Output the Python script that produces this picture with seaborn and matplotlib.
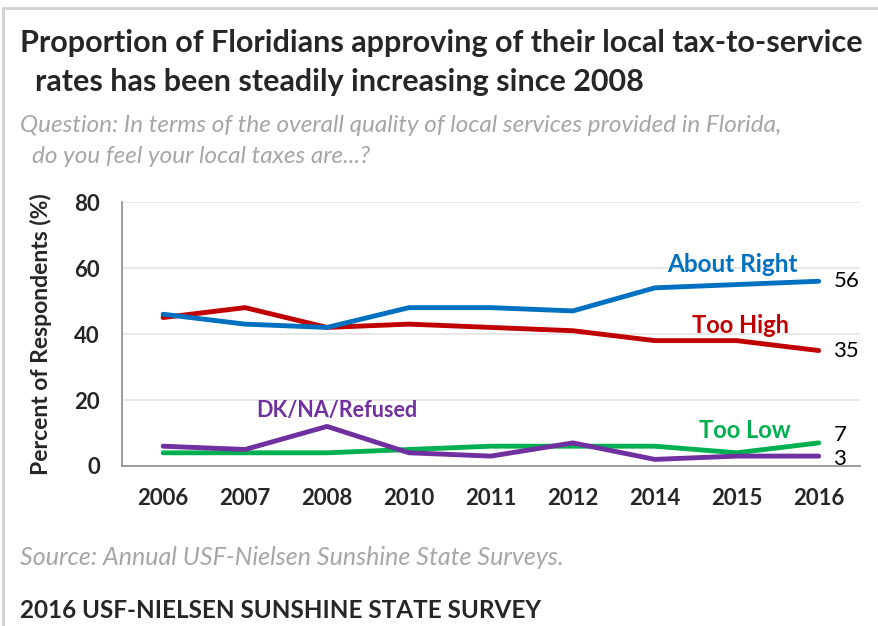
import pandas as pd
import matplotlib.pyplot as plt
import matplotlib.patches as mpatches
import seaborn as sns

# survey years (categorical, uneven spacing in the original)
years = ['2006', '2007', '2008', '2010', '2011', '2012', '2014', '2015', '2016']

about_right = [46, 43, 42, 48, 48, 47, 54, 55, 56]
too_high = [45, 48, 42, 43, 42, 41, 38, 38, 35]
too_low = [4, 4, 4, 5, 6, 6, 6, 4, 7]
dk_na = [6, 5, 12, 4, 3, 7, 2, 3, 3]

series_names = ['About Right', 'Too High', 'Too Low', 'DK/NA/Refused']
series_vals = [about_right, too_high, too_low, dk_na]
palette = {'About Right': '#0070C0', 'Too High': '#C00000',
           'Too Low': '#00B050', 'DK/NA/Refused': '#7030A0'}

rows = []
for name, vals in zip(series_names, series_vals):
    for i, (yr, v) in enumerate(zip(years, vals)):
        rows.append({'pos': i, 'year': yr, 'series': name, 'value': v})
df = pd.DataFrame(rows)

sns.set_style('white')
plt.rcParams['font.family'] = ['Lato', 'DejaVu Sans']

fig = plt.figure(figsize=(8.79, 6.26), dpi=100)
ax = fig.add_axes([0.139, 0.2556, 0.839, 0.4216])

# draw purple/green first so blue/red sit on top like the original
order = ['Too Low', 'DK/NA/Refused', 'Too High', 'About Right']
for name in order:
    sns.lineplot(data=df[df['series'] == name], x='pos', y='value',
                 color=palette[name], linewidth=3.5, ax=ax, legend=False)

ax.set_xlim(-0.5, 8.5)
ax.set_ylim(0, 80)
ax.set_yticks([0, 20, 40, 60, 80])
ax.set_xticks(range(len(years)))
ax.set_xticklabels(years)
ax.tick_params(axis='both', labelsize=16, length=0)
ax.tick_params(axis='y', pad=16)
ax.tick_params(axis='x', pad=16)
for lab in ax.get_xticklabels() + ax.get_yticklabels():
    lab.set_fontweight('bold')
ax.yaxis.grid(True, color='#E3E3E3', linewidth=1.2)
ax.set_axisbelow(True)
for s in ['top', 'right']:
    ax.spines[s].set_visible(False)
for s in ['left', 'bottom']:
    ax.spines[s].set_color('#8C8C8C')
    ax.spines[s].set_linewidth(1.2)
ax.set_xlabel('')
ax.set_ylabel('Percent of Respondents (%)', fontsize=16.5, fontweight='bold', labelpad=16)

# series labels
ax.text(6.95, 61, 'About Right', color=palette['About Right'], fontsize=17.5,
        fontweight='bold', ha='center', va='center')
ax.text(7.05, 42.5, 'Too High', color=palette['Too High'], fontsize=17,
        fontweight='bold', ha='center', va='center')
ax.text(2.12, 16.7, 'DK/NA/Refused', color=palette['DK/NA/Refused'], fontsize=15.5,
        fontweight='bold', ha='center', va='center')
ax.text(7.1, 10.7, 'Too Low', color=palette['Too Low'], fontsize=17,
        fontweight='bold', ha='center', va='center')

# end values
end_y = {'About Right': 56, 'Too High': 35, 'Too Low': 9.5, 'DK/NA/Refused': 2}
for name, vals in zip(series_names, series_vals):
    ax.text(8.18, end_y[name], str(vals[-1]), fontsize=16, color='black',
            ha='left', va='center')

# titles and notes
fig.text(0.023, 0.917, 'Proportion of Floridians approving of their local tax-to-service',
         fontsize=22, fontweight='bold', ha='left', va='baseline')
fig.text(0.040, 0.855, 'rates has been steadily increasing since 2008',
         fontsize=22, fontweight='bold', ha='left', va='baseline')
fig.text(0.023, 0.789, 'Question: In terms of the overall quality of local services provided in Florida,',
         fontsize=17.5, style='italic', color='#A6A6A6', ha='left', va='baseline')
fig.text(0.036, 0.740, 'do you feel your local taxes are...?',
         fontsize=17.5, style='italic', color='#A6A6A6', ha='left', va='baseline')
fig.text(0.023, 0.097, 'Source: Annual USF-Nielsen Sunshine State Surveys.',
         fontsize=18, style='italic', color='#A6A6A6', ha='left', va='baseline')
fig.text(0.023, 0.013, '2016 USF-NIELSEN SUNSHINE STATE SURVEY',
         fontsize=17.5, fontweight='bold', ha='left', va='baseline')

# light frame at top/left like the source screenshot
fig.add_artist(mpatches.Rectangle((0.003, -0.1), 1.2, 1.087, transform=fig.transFigure,
                                  fill=False, edgecolor='#D0D0D0', linewidth=2))

fig.savefig('out.png', dpi=100)
